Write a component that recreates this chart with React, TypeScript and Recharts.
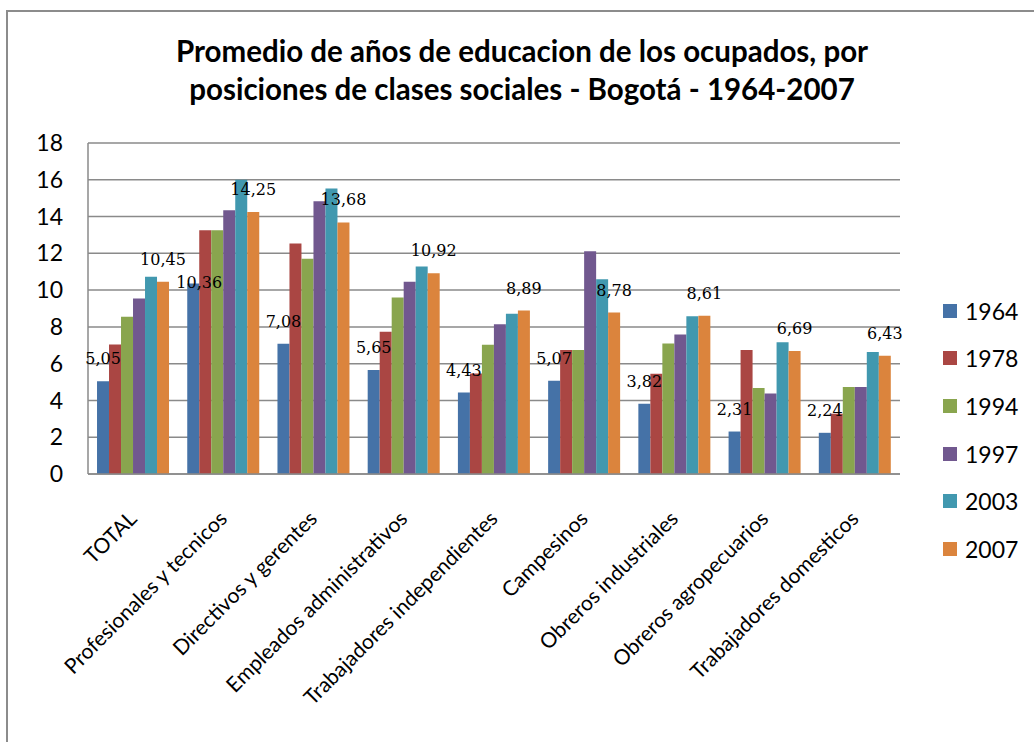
import { BarChart, Bar, XAxis, YAxis, CartesianGrid, LabelList } from "recharts";

const categories = [
  "TOTAL",
  "Profesionales y tecnicos",
  "Directivos y gerentes",
  "Empleados administrativos",
  "Trabajadores independientes",
  "Campesinos",
  "Obreros industriales",
  "Obreros agropecuarios",
  "Trabajadores domesticos",
];

const years = ["1964", "1978", "1994", "1997", "2003", "2007"];
const colors = ["#4572A7", "#AA4643", "#89A54E", "#71588F", "#4198AF", "#DB843D"];

const v1964 = [5.05, 10.36, 7.08, 5.65, 4.43, 5.07, 3.82, 2.31, 2.24];
const v1978 = [7.04, 13.26, 12.53, 7.73, 5.47, 6.75, 5.45, 6.75, 3.28];
const v1994 = [8.55, 13.26, 11.7, 9.6, 7.03, 6.75, 7.1, 4.67, 4.73];
const v1997 = [9.54, 14.34, 14.83, 10.45, 8.15, 12.12, 7.59, 4.38, 4.73];
const v2003 = [10.72, 16.0, 15.52, 11.28, 8.71, 10.59, 8.58, 7.17, 6.63];
const v2007 = [10.45, 14.25, 13.68, 10.92, 8.89, 8.78, 8.61, 6.69, 6.43];

const yTicks = [0, 2, 4, 6, 8, 10, 12, 14, 16, 18];

const series = [v1964, v1978, v1994, v1997, v2003, v2007];
const labelled = ["1964", "2007"];

const data = categories.map((name, i) => {
  const row: Record<string, string | number> = { name };
  years.forEach((yr, k) => {
    row[yr] = series[k][i];
  });
  return row;
});

const fmt = (v: number) => v.toFixed(2).replace(".", ",");

// the one label that was dragged by hand in the original (1964, Profesionales)
const moved: Record<string, [number, number]> = { "1964-1": [6, 22] };

const makeLabel = (yr: string) => (props: any) => {
  const { x, y, width, value, index } = props;
  const [dx, dy] = moved[`${yr}-${index}`] || [0, 0];
  return (
    <text
      x={x + width / 2 + dx}
      y={y - 17 + dy}
      textAnchor="middle"
      fontFamily="DejaVu Serif"
      fontSize={16}
      fill="#000"
    >
      {fmt(value)}
    </text>
  );
};

const CatTick = (props: any) => {
  const { x, y, payload } = props;
  return (
    <text
      x={x + 5}
      y={y + 38}
      transform={`rotate(-45, ${x + 5}, ${y + 38})`}
      textAnchor="end"
      fontFamily="Lato"
      fontSize={21}
      fill="#000"
    >
      {payload.value}
    </text>
  );
};

export default function App() {
  return (
    <div style={{ position: "absolute", left: 0, top: 0, width: 1034, height: 742, background: "#fff" }}>
      <div
        style={{
          position: "absolute",
          left: 6,
          top: 10,
          width: 1026,
          height: 730,
          borderLeft: "2px solid #8c8c8c",
          borderTop: "2px solid #8c8c8c",
        }}
      />
      <div
        style={{
          position: "absolute",
          left: 10,
          top: 32,
          width: 1024,
          textAlign: "center",
          fontFamily: "Lato",
          fontWeight: 700,
          fontSize: 29.5,
          lineHeight: "38px",
          color: "#000",
        }}
      >
        Promedio de años de educacion de los ocupados, por
        <br />
        posiciones de clases sociales - Bogotá - 1964-2007
      </div>
      <BarChart
        width={1034}
        height={742}
        data={data}
        margin={{ top: 143, right: 134, left: 0, bottom: 0 }}
        barCategoryGap="10%"
        barGap={0}
        style={{ position: "absolute", left: 0, top: 0 }}
      >
        <CartesianGrid vertical={false} stroke="#8a8a8a" strokeWidth={1.5} />
        <XAxis
          dataKey="name"
          height={268}
          interval={0}
          tickLine={false}
          axisLine={{ stroke: "#8a8a8a", strokeWidth: 1.5 }}
          tick={<CatTick />}
        />
        <YAxis
          width={88}
          domain={[0, 18]}
          ticks={yTicks}
          tickLine={false}
          tickMargin={19}
          axisLine={{ stroke: "#8a8a8a", strokeWidth: 1.5 }}
          tick={{ fontFamily: "Lato", fontSize: 23, fill: "#000" }}
        />
        {years.map((yr, k) => (
          <Bar key={yr} dataKey={yr} fill={colors[k]} isAnimationActive={false}>
            {labelled.includes(yr) && <LabelList dataKey={yr} content={makeLabel(yr)} />}
          </Bar>
        ))}
      </BarChart>
      <div
        style={{
          position: "absolute",
          left: 943,
          top: 287,
          fontFamily: "Lato",
          fontSize: 23,
          color: "#000",
        }}
      >
        {years.map((yr, k) => (
          <div key={yr} style={{ display: "flex", alignItems: "center", height: 47.6 }}>
            <span
              style={{
                display: "inline-block",
                width: 14,
                height: 14,
                background: colors[k],
                marginRight: 8,
              }}
            />
            <span>{yr}</span>
          </div>
        ))}
      </div>
    </div>
  );
}
